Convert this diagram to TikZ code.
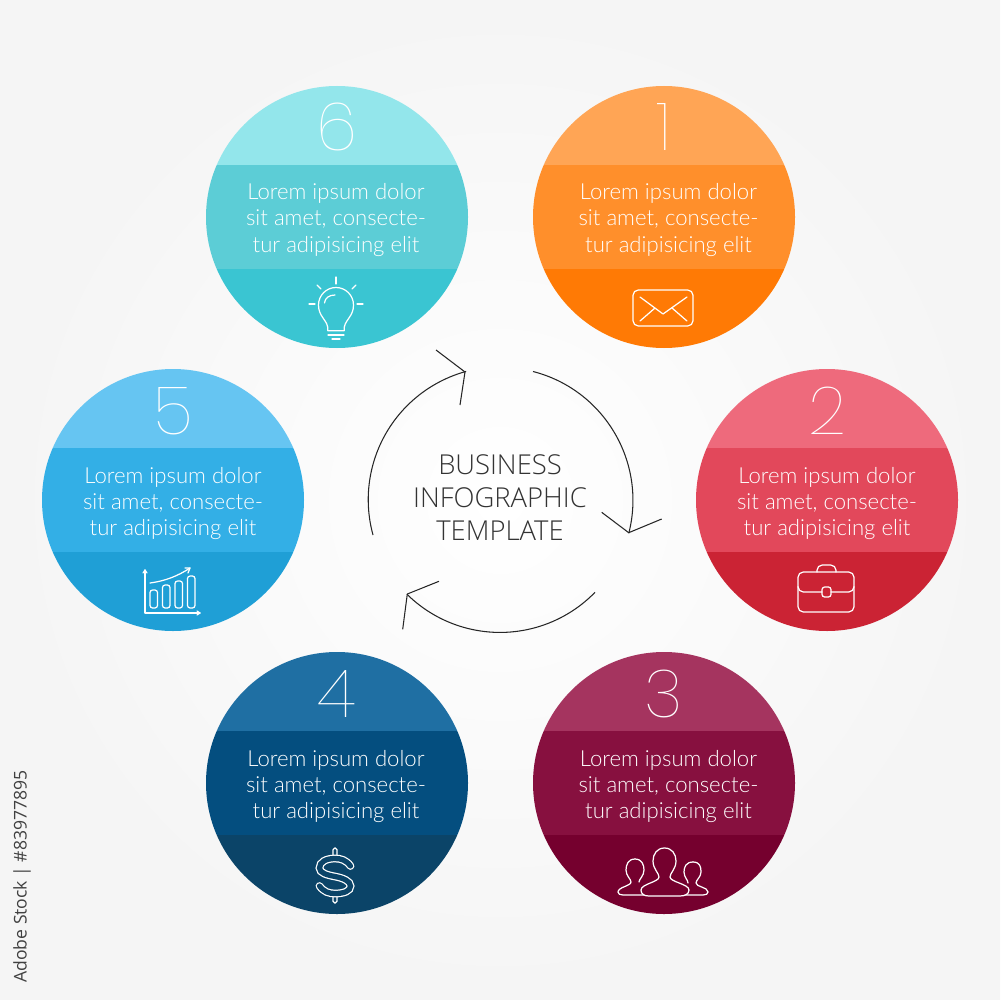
\documentclass[tikz,border=0pt]{standalone}
\usepackage{fontspec}
\setmainfont{Lato}
\newfontfamily\lightfont{Lato Light}
\newfontfamily\thinfont{Poppins Thin}
\newfontfamily\titlefont{Open Sans Light}
\newfontfamily\stockfont{Open Sans}
\definecolor{orangeTop}{HTML}{FFA555}
\definecolor{orangeMid}{HTML}{FF8F2B}
\definecolor{orangeBot}{HTML}{FF7A05}
\definecolor{redTop}{HTML}{EE6A7C}
\definecolor{redMid}{HTML}{E2485B}
\definecolor{redBot}{HTML}{CB2334}
\definecolor{plumTop}{HTML}{A5345F}
\definecolor{plumMid}{HTML}{87103F}
\definecolor{plumBot}{HTML}{75002E}
\definecolor{navyTop}{HTML}{1F6FA3}
\definecolor{navyMid}{HTML}{044E7F}
\definecolor{navyBot}{HTML}{0B4468}
\definecolor{skyTop}{HTML}{66C5F2}
\definecolor{skyMid}{HTML}{33AFE6}
\definecolor{skyBot}{HTML}{1F9FD6}
\definecolor{tealTop}{HTML}{93E6EB}
\definecolor{tealMid}{HTML}{5CCDD6}
\definecolor{tealBot}{HTML}{3AC5D2}
\begin{document}
\begin{tikzpicture}[x=0.02cm,y=0.02cm]
\tikzstyle{every node}+=[inner sep=0pt]
\tikzstyle{numeral}=[anchor=base,text=white,font=\thinfont\fontsize{38}{38}\selectfont]
\tikzstyle{lorem}=[text=white,align=center,font=\lightfont\fontsize{12.6}{14.8}\selectfont]
\tikzstyle{iconline}=[white,line width=0.7pt,line cap=round,line join=round]
\tikzstyle{cycleline}=[black!85,line width=0.6pt]
\useasboundingbox (0,0) rectangle (1000,-1000);
\shade [inner color=white,outer color=black!4] (0,0) rectangle (1000,-1000);

% circle 6
\begin{scope}
\clip (337,-217) circle (131);
\fill [tealTop] (200,-80) rectangle (475,-165);
\fill [tealMid] (200,-165) rectangle (475,-269);
\fill [tealBot] (200,-269) rectangle (475,-355);
\end{scope}
\node [numeral] (num6) at (337,-151) {6};
\node [lorem] (text6) at (336,-220) {Lorem ipsum dolor\\sit amet, consecte-\\tur adipisicing elit};
\draw [iconline] (327.7,-330.7) -- (327.7,-327) .. controls (326,-319) and (318.5,-316) .. (318.5,-305) arc (180:0:17.5) .. controls (353.5,-316) and (346,-319) .. (344.3,-327) -- (344.3,-330.7) -- cycle;
\draw [iconline] (328,-335) -- (344,-335);
\draw [iconline] (332,-339) -- (340,-339);
\draw [iconline] (336,-277) -- (336,-284);
\draw [iconline] (309,-304) -- (315,-304);
\draw [iconline] (357,-304) -- (363,-304);
\draw [iconline] (317,-285) -- (321,-289);
\draw [iconline] (356,-285) -- (352,-289);
\draw [iconline] (324.5,-303) .. controls (325,-298) and (329,-295) .. (335,-295);

% circle 1
\begin{scope}
\clip (664,-217) circle (131);
\fill [orangeTop] (527,-80) rectangle (802,-165);
\fill [orangeMid] (527,-165) rectangle (802,-269);
\fill [orangeBot] (527,-269) rectangle (802,-355);
\end{scope}
\node [numeral] (num1) at (664,-151) {1};
\node [lorem] (text1) at (668.5,-220) {Lorem ipsum dolor\\sit amet, consecte-\\tur adipisicing elit};
\draw [iconline,rounded corners=3] (633,-290) rectangle (693,-326);
\draw [iconline] (640,-297) -- (663,-314) -- (687,-297);
\draw [iconline] (640,-321) -- (655,-308);
\draw [iconline] (687,-321) -- (672,-308);

% circle 2
\begin{scope}
\clip (827,-500) circle (131);
\fill [redTop] (690,-363) rectangle (965,-448);
\fill [redMid] (690,-448) rectangle (965,-552);
\fill [redBot] (690,-552) rectangle (965,-638);
\end{scope}
\node [numeral] (num2) at (827,-434) {2};
\node [lorem] (text2) at (827,-503) {Lorem ipsum dolor\\sit amet, consecte-\\tur adipisicing elit};
\draw [iconline,rounded corners=3] (798,-572) rectangle (854,-612);
\draw [iconline,rounded corners=3] (817,-572) -- (817,-565) -- (836,-565) -- (836,-572);
\draw [iconline,rounded corners=3] (798,-587) -- (798,-592) -- (822,-592);
\draw [iconline,rounded corners=3] (854,-587) -- (854,-592) -- (831,-592);
\draw [iconline,rounded corners=1.5] (822,-587) rectangle (831,-597);

% circle 3
\begin{scope}
\clip (664,-783) circle (131);
\fill [plumTop] (527,-646) rectangle (802,-731);
\fill [plumMid] (527,-731) rectangle (802,-835);
\fill [plumBot] (527,-835) rectangle (802,-921);
\end{scope}
\node [numeral] (num3) at (664,-717) {3};
\node [lorem] (text3) at (668.5,-786) {Lorem ipsum dolor\\sit amet, consecte-\\tur adipisicing elit};
\draw [iconline] (635,-859) .. controls (628,-859) and (626,-865) .. (626,-870) .. controls (626,-876) and (631,-879) .. (631,-882) .. controls (631,-886) and (618,-887) .. (618,-892) .. controls (618,-894) and (620,-895) .. (623,-895) -- (647,-895);
\draw [iconline] (635,-859) .. controls (642,-859) and (644,-865) .. (644,-870) .. controls (644,-876) and (639,-879) .. (639,-882);
\draw [iconline] (693,-862) .. controls (700,-862) and (701,-867) .. (701,-872) .. controls (701,-877) and (696,-880) .. (696,-883) .. controls (696,-887) and (708,-887) .. (708,-892) .. controls (708,-894) and (706,-895) .. (703,-895) -- (683,-895);
\draw [iconline] (693,-862) .. controls (686,-862) and (684,-867) .. (684,-872) .. controls (684,-877) and (688,-880) .. (688,-883);
\draw [iconline,fill=plumBot] (664.5,-848) .. controls (672,-848) and (676,-854) .. (676,-861) .. controls (676,-869) and (670,-873) .. (670,-877) .. controls (670,-882) and (689,-884) .. (689,-890) .. controls (689,-894) and (685,-896) .. (680,-896) -- (649,-896) .. controls (644,-896) and (641,-894) .. (641,-890) .. controls (641,-884) and (659,-882) .. (659,-877) .. controls (659,-873) and (653,-869) .. (653,-861) .. controls (653,-854) and (657,-848) .. (664.5,-848) -- cycle;

% circle 4
\begin{scope}
\clip (337,-783) circle (131);
\fill [navyTop] (200,-646) rectangle (475,-731);
\fill [navyMid] (200,-731) rectangle (475,-835);
\fill [navyBot] (200,-835) rectangle (475,-921);
\end{scope}
\node [numeral] (num4) at (337,-717) {4};
\node [lorem] (text4) at (336,-786) {Lorem ipsum dolor\\sit amet, consecte-\\tur adipisicing elit};
\draw [iconline,rounded corners=1] (333,-856) -- (333,-848) -- (337,-848) -- (337,-856);
\draw [iconline,rounded corners=1] (333,-896) -- (333,-903) -- (337,-903) -- (337,-896);
\draw [white,line width=4.4pt,line cap=round] (350.5,-866) .. controls (346,-860) and (341,-858.5) .. (335,-858.5) .. controls (326,-858.5) and (319.5,-862) .. (319.5,-868) .. controls (319.5,-873) and (327,-875) .. (335,-876.5) .. controls (343,-878) and (350.5,-881) .. (350.5,-886) .. controls (350.5,-891) and (344,-893.5) .. (335,-893.5) .. controls (329,-893.5) and (324,-892) .. (319.5,-886);
\draw [navyBot,line width=3pt,line cap=round] (350.5,-866) .. controls (346,-860) and (341,-858.5) .. (335,-858.5) .. controls (326,-858.5) and (319.5,-862) .. (319.5,-868) .. controls (319.5,-873) and (327,-875) .. (335,-876.5) .. controls (343,-878) and (350.5,-881) .. (350.5,-886) .. controls (350.5,-891) and (344,-893.5) .. (335,-893.5) .. controls (329,-893.5) and (324,-892) .. (319.5,-886);

% circle 5
\begin{scope}
\clip (173,-500) circle (131);
\fill [skyTop] (36,-363) rectangle (311,-448);
\fill [skyMid] (36,-448) rectangle (311,-552);
\fill [skyBot] (36,-552) rectangle (311,-638);
\end{scope}
\node [numeral] (num5) at (173,-434) {5};
\node [lorem] (text5) at (173,-503) {Lorem ipsum dolor\\sit amet, consecte-\\tur adipisicing elit};
\draw [iconline] (145,-570) -- (145,-613) -- (200,-613);
\draw [iconline] (143,-573) -- (145,-570) -- (147,-573);
\draw [iconline] (197,-611) -- (200,-613) -- (197,-615);
\draw [iconline,rounded corners=1.5] (150,-590) rectangle (157.5,-608);
\draw [iconline,rounded corners=1.5] (162.5,-585) rectangle (170,-608);
\draw [iconline,rounded corners=1.5] (175,-581) rectangle (182.5,-608);
\draw [iconline,rounded corners=1.5] (187.5,-576) rectangle (195,-608);
\draw [iconline] (150,-583) .. controls (165,-581) and (178,-576) .. (190,-568);
\draw [iconline] (185,-568) -- (190,-568) -- (188,-573);

% cycle in the middle
\node [align=center,text=black!80,font=\titlefont\fontsize{15.6}{18.8}\selectfont] (title) at (500,-498) {BUSINESS\\INFOGRAPHIC\\TEMPLATE};
\coordinate (startA) at (373,-535);
\coordinate (tipA) at (465,-372);
\coordinate (barbA1) at (436,-350);
\coordinate (barbA2) at (460,-405);
\coordinate (startB) at (533,-371.5);
\coordinate (tipB) at (628.7,-532.7);
\coordinate (barbB1) at (601.7,-512.3);
\coordinate (barbB2) at (661.7,-519);
\coordinate (startC) at (595,-592.3);
\coordinate (tipC) at (407.3,-594);
\coordinate (barbC1) at (439,-581.3);
\coordinate (barbC2) at (402.7,-629.3);
\draw [cycleline] (startA) arc (195.4:105.3:133);
\draw [cycleline] (barbA1) -- (tipA) -- (barbA2);
\draw [cycleline] (startB) arc (75.6:-14.3:133);
\draw [cycleline] (barbB1) -- (tipB) -- (barbB2);
\draw [cycleline] (startC) arc (-44.2:-134.6:132.5);
\draw [cycleline] (barbC1) -- (tipC) -- (barbC2);

\node [rotate=90,anchor=west,text=black!75,font=\stockfont\fontsize{10}{10}\selectfont] (stock) at (22,-983) {Adobe Stock | \#83977895};
\end{tikzpicture}
\end{document}
